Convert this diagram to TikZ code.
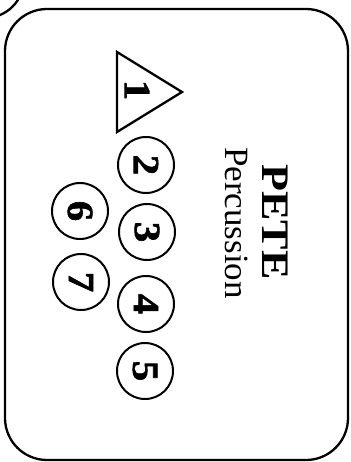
\documentclass[tikz,border=0pt]{standalone}
\usepackage{fontspec}
\setmainfont{Liberation Serif}
\newfontfamily\heavyfont{Liberation Serif Bold}[FakeBold=1.6]
\newcommand{\wide}[2]{\scalebox{#1}[1]{#2}}
\begin{document}
\begin{tikzpicture}[x=1pt,y=-1pt,
  ln/.style={line width=2.3pt},
  pin/.style={circle,draw,line width=2pt,minimum size=56pt,inner sep=0pt},
  num/.style={font=\fontsize{37}{39}\heavyfont,rotate=-90,inner sep=0pt}]
\useasboundingbox (0,0) rectangle (350,462);
\clip (0,0) rectangle (350,462);
\draw[ln] (-15,-21) circle[radius=39];
\draw[ln,rounded corners=42pt] (5,9) rectangle (348,460);
\coordinate (t1) at (117,52);
\coordinate (t2) at (182,92);
\coordinate (t3) at (117,132);
\draw[ln,line join=miter] (t1) -- (t2) -- (t3) -- cycle;
\node[num] (n1) at (137,90) {\wide{1.1}{1}};
\node[pin] (p2) at (146,165) {};
\node[num] at (p2) {\wide{1.1}{2}};
\node[pin] (p3) at (147,232) {};
\node[num] at (p3) {\wide{1.1}{3}};
\node[pin] (p4) at (146,304) {};
\node[num] at (p4) {\wide{1.1}{4}};
\node[pin] (p5) at (145,371) {};
\node[num] at (p5) {\wide{1.1}{5}};
\node[pin] (p6) at (80,211) {};
\node[num] at (p6) {\wide{1.1}{6}};
\node[pin] (p7) at (81,282) {};
\node[num] at (p7) {\wide{1.1}{7}};
\node[rotate=-90,anchor=base,inner sep=0pt,font=\fontsize{39}{41}\selectfont\bfseries] (pete) at (262,222) {\wide{1.13}{PETE}};
\node[rotate=-90,anchor=base,inner sep=0pt,font=\fontsize{34}{36}\selectfont] (perc) at (225,223) {\wide{1.03}{Percussion}};
\end{tikzpicture}
\end{document}
